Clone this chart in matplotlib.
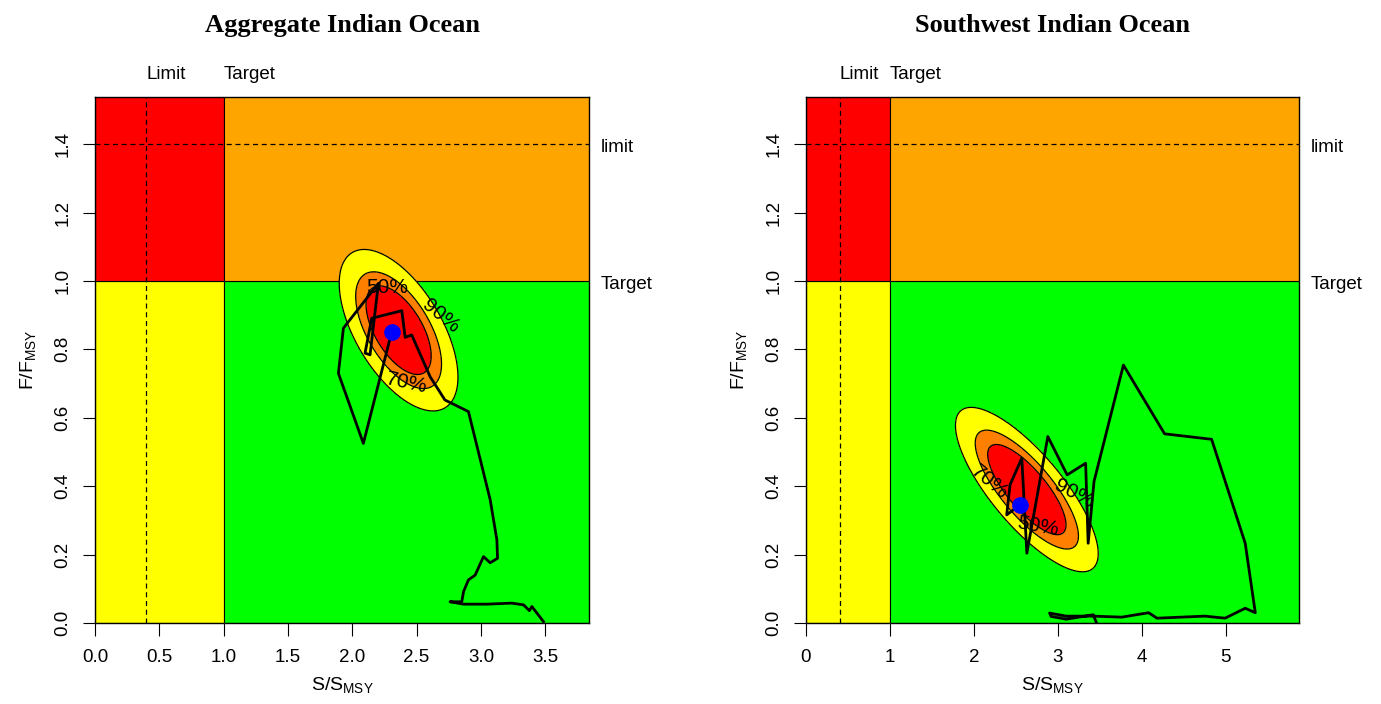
import matplotlib
matplotlib.use("Agg")
import matplotlib.pyplot as plt
import numpy as np
from matplotlib.patches import Rectangle

plt.rcParams['font.family'] = ['Liberation Sans', 'DejaVu Sans']
plt.rcParams['mathtext.fontset'] = 'custom'
plt.rcParams['mathtext.rm'] = 'Liberation Sans'

# reference points
s_limit = 0.4
s_target = 1.0
f_limit = 1.4
f_target = 1.0

# Aggregate Indian Ocean trajectory (S/Smsy, F/Fmsy)
agg_s = [3.486, 3.396, 3.377, 3.331, 3.240, 3.046, 2.865, 2.760, 2.851, 2.865,
         2.903, 2.955, 3.020, 3.072, 3.129, 3.124, 3.072, 2.903, 2.720, 2.605,
         2.462, 2.411, 2.385, 2.151, 2.099, 2.138, 2.203, 1.931, 1.892, 2.086,
         2.307]
agg_f = [0.004, 0.048, 0.036, 0.053, 0.058, 0.055, 0.055, 0.062, 0.062, 0.092,
         0.126, 0.140, 0.194, 0.176, 0.189, 0.243, 0.360, 0.618, 0.652, 0.720,
         0.842, 0.835, 0.913, 0.891, 0.789, 0.784, 0.993, 0.862, 0.730, 0.525,
         0.852]

# Southwest Indian Ocean trajectory
sw_s = [3.46, 3.42, 3.10, 2.92, 2.90, 3.10, 3.42, 3.76, 4.08, 4.18,
        4.75, 4.99, 5.23, 5.35, 5.23, 4.83, 4.27, 3.78, 3.43, 3.36,
        3.33, 3.11, 2.88, 2.63, 2.57, 2.43, 2.39, 2.545]
sw_f = [0.000, 0.024, 0.011, 0.019, 0.029, 0.020, 0.020, 0.017, 0.030, 0.014,
        0.020, 0.014, 0.043, 0.030, 0.233, 0.537, 0.553, 0.754, 0.414, 0.233,
        0.467, 0.433, 0.545, 0.204, 0.482, 0.404, 0.316, 0.345]

# uncertainty of the final year: mean, sd and correlation
agg_unc = dict(mx=2.36, my=0.856, sx=0.215, sy=0.110, rho=-0.58)
sw_unc = dict(mx=2.63, my=0.39, sx=0.396, sy=0.112, rho=-0.78)

probs = [0.5, 0.7, 0.9]
prob_labels = ['50%', '70%', '90%']

agg_label_pos = [(2.26, 0.93), (2.43, 0.72), (2.64, 0.84)]
sw_label_pos = [(2.75, 0.24), (2.22, 0.48), (3.17, 0.32)]


def kobe(ax, title, s, f, unc, xmax, xticks, xticklabels, label_pos):
    ymax = 1.538
    ax.add_patch(Rectangle((0, 0), s_target, f_target, fc='#FFFF00', ec='black', lw=0.8, zorder=0))
    ax.add_patch(Rectangle((s_target, 0), 20, f_target, fc='#00FF00', ec='black', lw=0.8, zorder=0))
    ax.add_patch(Rectangle((0, f_target), s_target, 20, fc='#FF0000', ec='black', lw=0.8, zorder=0))
    ax.add_patch(Rectangle((s_target, f_target), 20, 20, fc='#FFA500', ec='black', lw=0.8, zorder=0))
    ax.axvline(s_limit, color='black', ls=(0, (4, 3)), lw=0.9, zorder=1)
    ax.axhline(f_limit, color='black', ls=(0, (4, 3)), lw=0.9, zorder=1)

    # probability contours
    gx = np.linspace(0, xmax, 500)
    gy = np.linspace(0, ymax, 500)
    X, Y = np.meshgrid(gx, gy)
    dx = (X - unc['mx']) / unc['sx']
    dy = (Y - unc['my']) / unc['sy']
    d2 = (dx**2 - 2 * unc['rho'] * dx * dy + dy**2) / (1 - unc['rho']**2)
    lev = [-2 * np.log(1 - p) for p in probs]
    ax.contourf(X, Y, d2, levels=[0] + lev, colors=['#FF0000', '#FF8000', '#FFFF00'], zorder=2)
    ax.contour(X, Y, d2, levels=lev, colors='black', linewidths=0.9, zorder=3)
    for lv, lab, pos in zip(lev, prob_labels, label_pos):
        cs = ax.contour(X, Y, d2, levels=[lv], colors='none', linewidths=0, zorder=3)
        ax.clabel(cs, fmt={cs.levels[0]: lab}, fontsize=15, manual=[pos], inline=False, colors='black')

    ax.plot(s, f, color='black', lw=2.0, zorder=4)
    ax.plot(s[-1], f[-1], 'o', color='#0000FF', ms=11, zorder=5)

    ax.set_xlim(0, xmax)
    ax.set_ylim(0, ymax)
    ax.set_xticks(xticks)
    ax.set_xticklabels(xticklabels)
    ax.set_yticks(np.arange(0, 1.41, 0.2))
    ax.set_yticklabels(['%.1f' % v for v in np.arange(0, 1.41, 0.2)], rotation=90, va='center')
    ax.tick_params(labelsize=13.5, length=9, width=0.8, pad=8)
    ax.tick_params(axis='x', pad=10)
    for sp in ax.spines.values():
        sp.set_linewidth(1.0)
    ax.set_xlabel(r'$\mathregular{S/S_{MSY}}$', fontsize=14, labelpad=6)
    ax.set_ylabel(r'$\mathregular{F/F_{MSY}}$', fontsize=14, labelpad=12)
    ax.set_title(title, fontsize=19, fontweight='bold', family=['Liberation Serif'], pad=47)

    ax.text(s_limit, ymax + 0.04, 'Limit', fontsize=13.5, ha='left', va='bottom')
    ax.text(s_target, ymax + 0.04, 'Target', fontsize=13.5, ha='left', va='bottom')
    ax.text(xmax * 1.023, f_limit - 0.01, 'limit', fontsize=13.5, ha='left', va='center', clip_on=False)
    ax.text(xmax * 1.023, f_target - 0.01, 'Target', fontsize=13.5, ha='left', va='center', clip_on=False)


fig = plt.figure(figsize=(13.81, 7.04), dpi=100)
ax1 = fig.add_axes([0.0688, 0.1151, 0.3577, 0.7472])
ax2 = fig.add_axes([0.5836, 0.1151, 0.3570, 0.7472])

kobe(ax1, 'Aggregate Indian Ocean', agg_s, agg_f, agg_unc, 3.84,
     np.arange(0, 3.6, 0.5), ['%.1f' % v for v in np.arange(0, 3.6, 0.5)], agg_label_pos)
kobe(ax2, 'Southwest Indian Ocean', sw_s, sw_f, sw_unc, 5.87,
     np.arange(0, 6), [str(v) for v in range(6)], sw_label_pos)

fig.savefig('out.png', dpi=100)
